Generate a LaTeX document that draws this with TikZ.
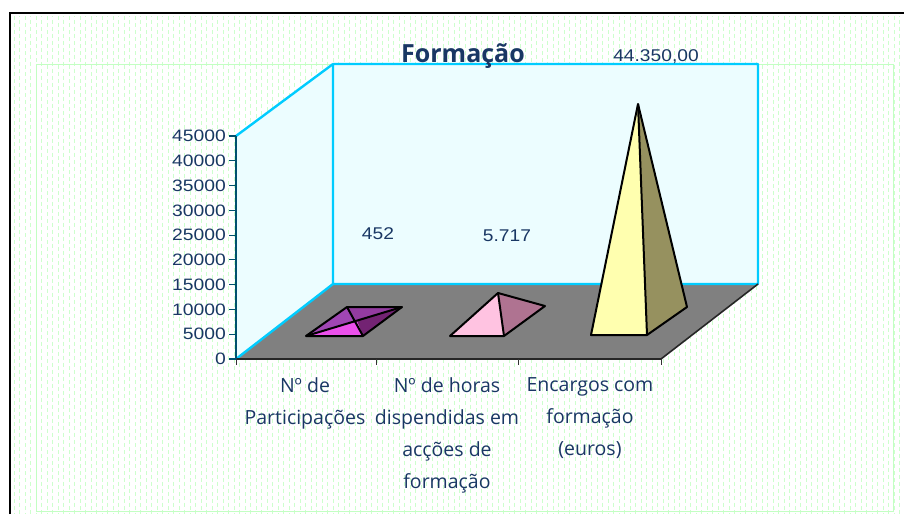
\documentclass[tikz,border=0pt]{standalone}
\usepackage{fontspec}
\setmainfont{Liberation Sans}
\newfontfamily\catfont{Open Sans}
\newfontfamily\titlefont{Open Sans}
\definecolor{navy}{RGB}{25,55,100}
\definecolor{bgdashc}{RGB}{205,255,205}
\definecolor{innerg}{RGB}{195,255,195}
\definecolor{wallc}{RGB}{236,253,255}
\definecolor{cyanl}{RGB}{0,204,255}
\definecolor{floorc}{RGB}{128,128,128}
\definecolor{axisc}{RGB}{0,80,110}
\definecolor{pfront}{RGB}{235,80,235}
\definecolor{pleft}{RGB}{160,70,180}
\definecolor{pright}{RGB}{115,35,115}
\definecolor{kfront}{RGB}{255,195,225}
\definecolor{kright}{RGB}{175,115,145}
\definecolor{yfront}{RGB}{255,255,175}
\definecolor{yright}{RGB}{150,145,95}
\tikzset{
  bgdash/.style={draw=bgdashc, line width=0.9pt, dash pattern=on 4pt off 3pt},
  wallline/.style={draw=cyanl, line width=2.4pt, line join=round},
  face/.style={draw=black, line width=2pt, line join=round},
  ylab/.style={anchor=east, text=navy, font=\fontsize{16.5}{16.5}\selectfont, inner sep=0pt, xscale=1.17},
  vlab/.style={text=navy, font=\fontsize{17}{17}\selectfont, inner sep=0pt, xscale=1.13},
  catlab/.style={text=navy, font=\catfont\fontsize{19.5}{32}\selectfont, align=center, anchor=north, inner sep=0pt},
}
\begin{document}
\begin{tikzpicture}[x=1pt,y=-1pt]
\useasboundingbox (0,0) rectangle (904,514);
% background pattern
\foreach \i in {0,...,161}{
  \pgfmathsetmacro{\xx}{14+5.5*\i}
  \pgfmathsetmacro{\ph}{mod(\i,2)*3.5}
  \draw[bgdash, dash phase=\ph pt] (\xx,16) -- (\xx,514);
}
% outer frame
\draw[black, line width=2pt] (10,514) -- (10,13) -- (904,13);
% inner plot-area frame
\draw[innerg, line width=1pt] (36,64) rectangle (893,511);
% walls
\coordinate (LB) at (236,359);
\coordinate (LT) at (236,136);
\coordinate (BTL) at (333,64);
\coordinate (BTR) at (758,64);
\coordinate (BBL) at (333,284);
\coordinate (BBR) at (758,284);
\coordinate (FR) at (661,359);
\fill[wallc] (BTL) -- (BTR) -- (BBR) -- (BBL) -- cycle;
\fill[wallc] (LT) -- (BTL) -- (BBL) -- (LB) -- cycle;
\fill[floorc] (LB) -- (BBL) -- (BBR) -- (FR) -- cycle;
\draw[wallline] (BBL) -- (BTL) -- (BTR) -- (BBR) -- (BBL) -- (LB);
\draw[wallline] (LT) -- (BTL);
\draw[black!85, line width=1.6pt, line join=round] (LB) -- (FR) -- (BBR);
% y axis
\draw[axisc, line width=1.6pt] (LT) -- (LB);
\foreach \v [count=\k from 0] in {0,5000,10000,15000,20000,25000,30000,35000,40000,45000}{
  \pgfmathsetmacro{\yy}{359-24.78*\k}
  \draw[axisc, line width=1.2pt] (229,\yy) -- (236,\yy);
  \node[ylab] (y\k) at (226,\yy) {\v};
}
% x ticks
\foreach \xx in {236,376,518,661}{
  \draw[black!80, line width=1pt] (\xx,359) -- (\xx,365);
}
% pyramid 1 (purple)
\coordinate (a1) at (306,336);
\coordinate (b1) at (363,336);
\coordinate (c1) at (402,307);
\coordinate (d1) at (347,307);
\coordinate (p1) at (357,321);
\fill[pleft] (a1) -- (d1) -- (p1) -- cycle;
\fill[pleft!70!pright] (d1) -- (c1) -- (p1) -- cycle;
\fill[pright] (b1) -- (c1) -- (p1) -- cycle;
\fill[pfront] (a1) -- (b1) -- (p1) -- cycle;
\draw[face] (a1) -- (b1) -- (c1) -- (d1) -- cycle;
\draw[face] (a1) -- (c1) (d1) -- (b1);
% pyramid 2 (pink)
\coordinate (a2) at (450,336);
\coordinate (b2) at (504,336);
\coordinate (c2) at (545,306);
\coordinate (p2) at (498,293);
\fill[kfront] (a2) -- (b2) -- (p2) -- cycle;
\fill[kright] (b2) -- (c2) -- (p2) -- cycle;
\draw[face] (a2) -- (b2) -- (c2) -- (p2) -- cycle;
\draw[face] (b2) -- (p2);
% pyramid 3 (yellow)
\coordinate (a3) at (591,335);
\coordinate (b3) at (647,335);
\coordinate (c3) at (687,307);
\coordinate (p3) at (638,104);
\fill[yfront] (a3) -- (b3) -- (p3) -- cycle;
\fill[yright] (b3) -- (c3) -- (p3) -- cycle;
\draw[face] (a3) -- (b3) -- (c3) -- (p3) -- cycle;
\draw[face] (b3) -- (p3);
% value labels
\node[vlab] (v1) at (378,234) {452};
\node[vlab] (v2) at (507,236) {5.717};
\node[vlab] (v3) at (656,57) {44.350,00};
% title
\node[text=navy, font=\titlefont\bfseries\fontsize{25}{25}\selectfont, inner sep=0pt, anchor=base] (title) at (463,62) {Formação};
% category labels
\node[catlab] (c1lab) at (305,377) {Nº de\\Participações};
\node[catlab] (c2lab) at (447,377) {Nº de horas\\dispendidas em\\acções de\\formação};
\node[catlab] (c3lab) at (590,377) {Encargos com\\formação\\(euros)};
\end{tikzpicture}
\end{document}
